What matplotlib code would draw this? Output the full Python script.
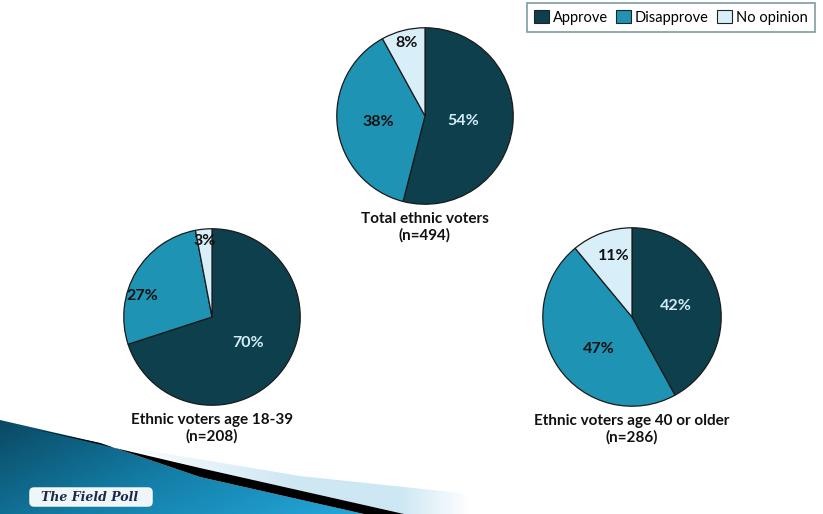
"""Pie charts - approval among ethnic voters (The Field Poll)"""
import numpy as np
import matplotlib
matplotlib.use('Agg')
import matplotlib.pyplot as plt
from matplotlib.patches import Patch, Polygon, FancyBboxPatch

categories = ['Approve', 'Disapprove', 'No opinion']
total_vals = [54, 38, 8]
young_vals = [70, 27, 3]
older_vals = [42, 47, 11]
titles = ['Total ethnic voters\n(n=494)',
          'Ethnic voters age 18-39\n(n=208)',
          'Ethnic voters age 40 or older\n(n=286)']

COLORS = ['#0e3f4d', '#1f93b3', '#d8eef8']
LABEL_COLORS = ['#d3ecf6', '#111111', '#111111']
FONT = ['Lato', 'DejaVu Sans']

W, H = 823, 514
fig = plt.figure(figsize=(W / 100, H / 100), dpi=100)
fig.patch.set_facecolor('white')

# background layer in pixel coords
bg = fig.add_axes([0, 0, 1, 1])
bg.set_xlim(0, W)
bg.set_ylim(H, 0)
bg.axis('off')

blue_pts = [(0, 420), (100, 443), (200, 477), (333, 507), (364, 514), (0, 514)]
blue = Polygon(blue_pts, closed=True, facecolor='none', edgecolor='none')
bg.add_patch(blue)
gx = np.linspace(0, 1, 200)
gy = np.linspace(0, 1, 50)
GX, GY = np.meshgrid(gx, gy)
grad = 0.65 * GX + 0.35 * GY
cmap = matplotlib.colors.LinearSegmentedColormap.from_list('sw', ['#0a4862', '#147fa8', '#25a8dc'])
im = bg.imshow(grad, cmap=cmap, extent=(0, 370, 514, 418), aspect='auto', zorder=1)
im.set_clip_path(blue)

# light haze above the black stripe, fading at both ends
haze = Polygon([(120, 446), (300, 476), (470, 494), (470, 514), (404, 514), (333, 498), (200, 468)],
               closed=True, facecolor='none', edgecolor='none')
bg.add_patch(haze)
hx = np.linspace(0, 1, 300)
fade = np.clip(hx / 0.5, 0, 1) * np.clip((1 - hx) / 0.2, 0, 1)
hz = bg.imshow(np.repeat(fade[None, :], 10, axis=0),
               cmap=matplotlib.colors.LinearSegmentedColormap.from_list('hz', ['#ffffff', '#cde7f3']),
               extent=(120, 470, 514, 440), aspect='auto', zorder=1)
hz.set_clip_path(haze)

black = Polygon([(30, 428), (200, 468), (333, 498), (404, 514), (364, 514), (333, 507), (200, 477), (100, 443)],
                closed=True, facecolor='black', edgecolor='none', zorder=2)
bg.add_patch(black)

box = FancyBboxPatch((30, 488), 122, 18, boxstyle='round,pad=0,rounding_size=4',
                     facecolor='#eef6fa', edgecolor='#ffffff', linewidth=1, zorder=3)
bg.add_patch(box)
bg.text(90, 497.5, 'The Field Poll', ha='center', va='center', fontsize=9,
        family='DejaVu Serif', style='italic', weight='bold', color='#1c2a4a', zorder=4)

# pies: (values, center x, center y, radius, label (dist, angle shift))
pies = [
    (total_vals, 425, 116, 90, [(0.44, 0), (0.53, 0), (0.85, 0)]),
    (young_vals, 212, 317, 90, [(0.50, 0), (0.83, 14), (0.86, 0)]),
    (older_vals, 632, 317, 91, [(0.51, 0), (0.52, 10), (0.71, -3)]),
]

for (vals, cx, cy, r, lab_pos), title in zip(pies, titles):
    ax = fig.add_axes([(cx - r) / W, 1 - (cy + r) / H, 2 * r / W, 2 * r / H])
    wedges, _ = ax.pie(vals, colors=COLORS, startangle=90, counterclock=False,
                       wedgeprops=dict(edgecolor='#1a1a1a', linewidth=0.9))
    ax.set_xlim(-1.02, 1.02)
    ax.set_ylim(-1.02, 1.02)
    ax.set_aspect('equal')
    for w, v, (d, shift), c in zip(wedges, vals, lab_pos, LABEL_COLORS):
        ang = np.deg2rad((w.theta1 + w.theta2) / 2 + shift)
        ax.text(d * np.cos(ang), d * np.sin(ang), f'{v}%', ha='center', va='center',
                fontsize=11.5, weight='bold', color=c, family=FONT)
    bg.text(cx, cy + r + 21, title, ha='center', va='center', fontsize=11,
            weight='bold', color='#111111', family=FONT, linespacing=1.15, zorder=5)

handles = [Patch(facecolor=c, edgecolor='#222222', linewidth=0.8) for c in COLORS]
leg = fig.legend(handles, categories, loc='upper right', bbox_to_anchor=(815 / W, 1 - 3 / H),
                 ncol=3, frameon=True, fancybox=False, handlelength=1.0,
                 handleheight=1.0, handletextpad=0.3, columnspacing=0.55, borderpad=0.5,
                 borderaxespad=0.0, prop={'family': FONT, 'size': 10.5})
leg.get_frame().set_edgecolor('#5f8288')
leg.get_frame().set_linewidth(1.2)

plt.savefig('out.png', dpi=100)
plt.close(fig)
